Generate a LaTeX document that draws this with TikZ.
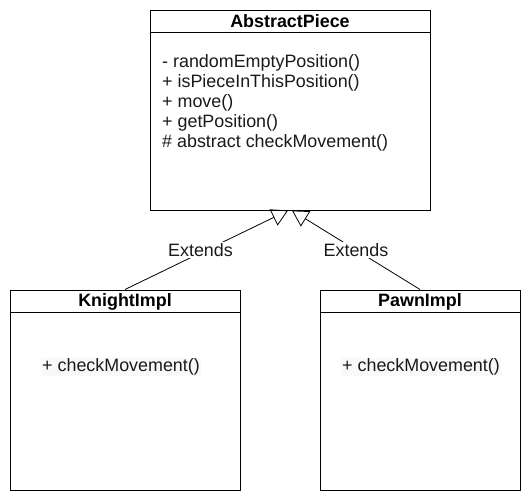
\documentclass[tikz,border=0pt]{standalone}
\usepackage{fontspec}
\setmainfont{Liberation Sans}
\usetikzlibrary{arrows.meta}
\definecolor{hl}{HTML}{F8F9FA}
\definecolor{txt}{HTML}{1A1A1A}
\begin{document}
\begin{tikzpicture}[x=1pt,y=-1pt,
  classbox/.style={draw=black, line width=1pt, fill=white, inner sep=0pt},
  title/.style={font=\fontsize{17.9}{20}\selectfont\bfseries, inner sep=0pt},
  member/.style={font=\fontsize{17.9}{20}\selectfont, text=txt, inner sep=0pt, anchor=base west},
  hlmember/.style={font=\fontsize{17.9}{20}\selectfont, text=txt, fill=hl, inner xsep=1pt, inner ysep=0pt, text height=14pt, text depth=4.5pt},
  lbl/.style={font=\fontsize{17.9}{20}\selectfont, text=txt, fill=white, inner sep=1pt},
  extends/.style={line width=0.8pt, -{Triangle[open, length=16pt, width=18pt, line width=0.8pt]}}
]
\useasboundingbox (0,0) rectangle (531,501);

% boxes
\node[classbox, minimum width=280pt, minimum height=200pt] (ap) at (290,110) {};
\node[classbox, minimum width=230pt, minimum height=200pt] (kn) at (125,390) {};
\node[classbox, minimum width=200pt, minimum height=200pt] (pw) at (420,390) {};

% header separators
\draw[line width=1pt] ([yshift=-23pt]ap.north west) -- ([yshift=-23pt]ap.north east);
\draw[line width=1pt] ([yshift=-23pt]kn.north west) -- ([yshift=-23pt]kn.north east);
\draw[line width=1pt] ([yshift=-23pt]pw.north west) -- ([yshift=-23pt]pw.north east);

% titles
\node[title] (apt) at (290,21.5) {AbstractPiece};
\node[title] (knt) at (125,301.5) {KnightImpl};
\node[title] (pwt) at (420,301.5) {PawnImpl};

% members of AbstractPiece
\node[member] (m1) at (162,67) {- randomEmptyPosition()};
\node[member] (m2) at (162,87) {+ isPieceInThisPosition()};
\node[member] (m3) at (162,107) {+ move()};
\node[member] (m4) at (162,127) {+ getPosition()};
\node[member] (m5) at (162,147) {\# abstract checkMovement()};

% members of subclasses
\node[hlmember, anchor=base west] (km) at (41,371.5) {+ checkMovement()};
\node[hlmember, anchor=base west] (pm) at (341,371.5) {+ checkMovement()};

% inheritance connectors
\draw[extends] (kn.north) -- ([xshift=-2pt]ap.south)
  node[lbl, pos=0.5, xshift=-6pt] (e1) {Extends};
\draw[extends] (pw.north) -- ([xshift=2pt]ap.south)
  node[lbl, pos=0.5] (e2) {Extends};
\end{tikzpicture}
\end{document}
